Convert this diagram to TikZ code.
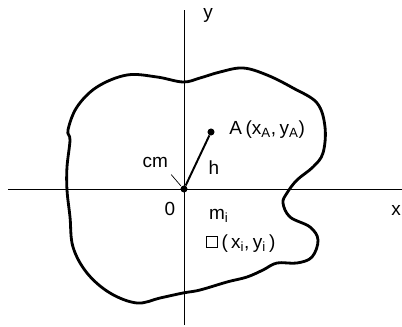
\documentclass[tikz,border=0pt]{standalone}
\usepackage{fontspec}
\setmainfont{Liberation Sans}
\usetikzlibrary{positioning}

\begin{document}
\begin{tikzpicture}[lbl/.style={font=\fontsize{13.5}{15}\selectfont, inner sep=1pt}, axis/.style={line width=0.6pt}]
        \useasboundingbox (-4.6,-3.45) rectangle (5.45,4.725);
        \draw[axis] (-4.4,0)--(5.45,0);
        \draw[axis] (0,-3.4)--(0,4.475);
        \draw[line width=2pt, line join=round] plot[smooth cycle, tension=0.6] coordinates {
            (-2.9,1.475) (-2.675,2.05) (-2.175,2.55) (-1.425,2.85) (-0.675,2.8) (-0.025,2.675)
            (0.4,2.775) (0.9,2.925) (1.475,3.025) (2.075,2.85) (2.725,2.525) (3.325,2.15)
            (3.525,1.55) (3.475,0.9) (3.225,0.55) (2.825,0.225) (2.575,-0.1) (2.475,-0.35)
            (2.65,-0.7) (3.15,-0.95) (3.35,-1.275) (3.2,-1.7) (2.825,-1.85) (2.325,-1.85)
            (1.975,-2.025) (1.575,-2.2) (1.075,-2.325) (0.4,-2.525) (-0.025,-2.6) (-0.6,-2.725)
            (-1.175,-2.85) (-1.85,-2.6) (-2.425,-2.1) (-2.775,-1.45) (-2.85,-0.7) (-2.925,-0.025)
            (-2.925,0.55) (-2.85,1.225)};
        \node[circle, fill, inner sep=0pt, minimum size=5pt] (O) at (0,0) {};
        \node[circle, fill, inner sep=0pt, minimum size=5pt] (A) at (0.675,1.425) {};
        \draw[line width=1.4pt] (O)--(A);
        \node[lbl] (Alabel) at (2.08,1.48) {A$\,$(x$_\mathrm{A}$,$\,$y$_\mathrm{A}$)};
        \node[lbl] (h) at (0.75,0.53) {h};
        \node[lbl] (cm) at (-0.72,0.66) {cm};
        \coordinate (cmend) at (-0.08,0.08);
        \draw[line width=0.5pt] (-0.32,0.36)--(cmend);
        \node[lbl] (zero) at (-0.35,-0.5) {0};
        \node[lbl] (y) at (0.6,4.35) {y};
        \node[lbl] (x) at (5.3,-0.525) {x};
        \node[lbl] (mi) at (0.87,-0.68) {m$_\mathrm{i}$};
        \node[draw, line width=0.7pt, minimum size=0.27cm, inner sep=0pt] (mass) at (0.7,-1.325) {};
        \node[lbl, right=0.05cm of mass.east, anchor=west, yshift=-1pt] (xiyi) {(\,x$_\mathrm{i}$,$\,$y$_\mathrm{i}$\,)};
    \end{tikzpicture}
\end{document}
